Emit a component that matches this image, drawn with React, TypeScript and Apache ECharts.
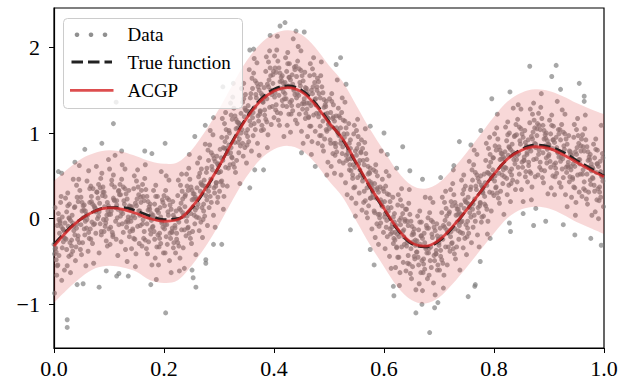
import React, { useEffect, useRef } from "react";
import * as echarts from "echarts";

// ---------- data ----------
const CURVE_X = [
  0, 0.025, 0.05, 0.075, 0.1, 0.125, 0.15, 0.175, 0.2, 0.225, 0.25, 0.275, 0.3, 0.325, 0.35, 0.375, 0.4,
  0.425, 0.45, 0.475, 0.5, 0.525, 0.55, 0.575, 0.6, 0.625, 0.65, 0.675, 0.7, 0.725, 0.75, 0.775, 0.8,
  0.825, 0.85, 0.875, 0.9, 0.925, 0.95, 0.975, 1.0,
];
const ACGP_MEAN = [
  -0.32, -0.14, 0.0, 0.09, 0.125, 0.11, 0.06, 0.0, -0.03, -0.01, 0.13, 0.35, 0.61, 0.9, 1.17, 1.37, 1.49,
  1.53, 1.48, 1.33, 1.12, 0.93, 0.65, 0.37, 0.12, -0.12, -0.28, -0.32, -0.25, -0.09, 0.1, 0.31, 0.52,
  0.7, 0.8, 0.84, 0.82, 0.75, 0.66, 0.57, 0.49,
];
const TRUE_FUNCTION = [
  -0.3, -0.13, 0.0, 0.09, 0.13, 0.13, 0.09, 0.03, -0.01, 0.0, 0.12, 0.34, 0.61, 0.91, 1.18, 1.39, 1.51,
  1.55, 1.5, 1.35, 1.13, 0.92, 0.64, 0.36, 0.11, -0.13, -0.29, -0.33, -0.26, -0.1, 0.1, 0.31, 0.52,
  0.7, 0.81, 0.86, 0.84, 0.78, 0.68, 0.59, 0.5,
];
const BAND_UPPER = [
  0.44, 0.58, 0.7, 0.77, 0.8, 0.78, 0.73, 0.67, 0.64, 0.66, 0.8, 1.02, 1.28, 1.57, 1.84, 2.04, 2.16,
  2.2, 2.15, 2.0, 1.79, 1.6, 1.32, 1.04, 0.79, 0.55, 0.39, 0.35, 0.42, 0.58, 0.77, 0.98, 1.19,
  1.37, 1.47, 1.51, 1.49, 1.43, 1.35, 1.28, 1.22,
];
const BAND_LOWER = [
  -0.98, -0.82, -0.68, -0.58, -0.55, -0.57, -0.62, -0.72, -0.75, -0.72, -0.55, -0.33, -0.07, 0.22, 0.49,
  0.69, 0.81, 0.85, 0.8, 0.65, 0.44, 0.25, -0.03, -0.31, -0.56, -0.8, -0.95, -0.99, -0.92, -0.76, -0.57,
  -0.37, -0.17, 0.01, 0.11, 0.14, 0.12, 0.05, -0.04, -0.11, -0.18,
];
const X_TICKS = [0, 0.2, 0.4, 0.6, 0.8, 1.0];
const Y_TICKS = [-1, 0, 1, 2];
const LEGEND_LABELS = ["Data", "True function", "ACGP"];

// observed points: "x,y" with x in thousandths and y in hundredths
const DATA_POINTS = `
0,-30 11,-3 5,-66 16,-12 2,13 9,-43 18,-22 7,-54 13,26 3,-34 15,2 1,-87 10,-17 19,-60 6,-8 12,19 4,-39 17,-27 8,6 14,-72
27,1 34,-38 21,24 38,-19 30,-63 23,8 36,-14 25,30 32,-32 20,-5 39,-49 28,17 22,-24 35,46 31,-42 26,-9 37,13 24,-55 33,4 29,-28
40,-33 51,9 45,46 56,-19 42,25 49,-7 58,-55 47,33 53,1 43,-24 55,16 41,39 50,-42 59,-11 46,62 52,-28 44,20 57,-3 48,-36 54,10
67,38 74,-6 61,4 78,31 70,-29 63,56 76,-17 65,19 72,-52 60,44 79,0 68,26 62,-38 75,12 71,35 66,-12 77,61 64,-23 73,15 69,-4
80,24 91,-15 85,47 96,4 82,-40 89,31 98,9 87,53 93,-9 83,18 95,-26 81,40 90,-1 99,69 86,-19 92,14 84,36 97,-32 88,27 94,-5
107,-21 114,21 101,58 118,-7 110,37 103,5 116,-43 105,45 112,13 100,-12 119,28 108,51 102,-30 115,1 111,74 106,-16 117,32 104,9 113,-24 109,22
120,40 131,-4 125,6 136,33 122,-27 129,58 138,-15 127,21 133,-50 123,46 135,2 121,28 130,-36 139,14 126,37 132,-10 124,63 137,-21 128,17 134,-2
147,1 154,28 141,-35 158,19 150,44 143,-12 156,9 145,-23 152,57 140,-3 159,33 148,-56 142,14 155,-29 151,23 146,50 157,-8 144,4 153,37 149,-41
160,-32 171,10 165,47 176,-18 162,26 169,-6 178,-54 167,34 173,2 163,-23 175,17 161,40 170,-41 179,-10 166,63 172,-27 164,21 177,-2 168,-35 174,11
187,10 194,-29 181,33 198,-10 190,-54 183,17 196,-5 185,39 192,-23 180,4 199,-40 188,26 182,-15 195,55 191,-33 186,0 197,22 184,-46 193,13 189,-19
200,27 211,-17 205,-7 216,20 202,-40 209,45 218,-28 207,8 213,-63 203,33 215,-11 201,15 210,-49 219,1 206,24 212,-23 204,50 217,-34 208,4 214,-15
227,-4 234,23 221,-40 238,14 230,39 223,-17 236,4 225,-28 232,52 220,-8 239,28 228,-61 222,9 235,-34 231,18 226,45 237,-13 224,-1 233,32 229,-46
240,-20 251,22 245,59 256,-6 242,38 249,6 258,-42 247,46 253,14 243,-11 255,29 241,52 250,-29 259,2 246,75 252,-15 244,33 257,10 248,-23 254,23
267,42 274,3 261,65 278,22 270,-22 263,49 276,27 265,71 272,9 260,36 279,-8 268,58 262,17 275,87 271,-1 266,32 277,54 264,-14 273,45 269,13
280,80 291,36 285,46 296,73 282,13 289,98 298,25 287,61 293,-10 283,86 295,42 281,68 290,4 299,54 286,77 292,30 284,103 297,19 288,57 294,38
307,68 314,95 301,32 318,86 310,111 303,55 316,76 305,44 312,124 300,64 319,100 308,11 302,81 315,38 311,90 306,117 317,59 304,71 313,104 309,26
320,63 331,105 325,142 336,77 322,121 329,89 338,41 327,129 333,97 323,72 335,112 321,135 330,54 339,85 326,158 332,68 324,116 337,93 328,60 334,106
347,129 354,90 341,152 358,109 350,65 343,136 356,114 345,158 352,96 340,123 359,79 348,145 342,104 355,174 351,86 346,119 357,141 344,73 353,132 349,100
360,164 371,120 365,130 376,157 362,97 369,182 378,109 367,145 373,74 363,170 375,126 361,152 370,88 379,138 366,161 372,114 364,187 377,103 368,141 374,122
387,140 394,167 381,104 398,158 390,183 383,127 396,148 385,116 392,196 380,136 399,172 388,83 382,153 395,110 391,162 386,189 397,131 384,143 393,176 389,98
400,118 411,160 405,197 416,132 402,176 409,144 418,96 407,184 413,152 403,127 415,167 401,190 410,109 419,140 406,213 412,123 404,171 417,148 408,115 414,161
427,165 434,126 421,188 438,145 430,101 423,172 436,150 425,194 432,132 420,159 439,115 428,181 422,140 435,210 431,122 426,155 437,177 424,109 433,168 429,136
440,178 451,134 445,144 456,171 442,111 449,196 458,123 447,159 453,88 443,184 455,140 441,166 450,102 459,152 446,175 452,128 444,201 457,117 448,155 454,136
467,132 474,159 461,96 478,150 470,175 463,119 476,140 465,108 472,188 460,128 479,164 468,75 462,145 475,102 471,154 466,181 477,123 464,135 473,168 469,90
480,88 491,130 485,167 496,102 482,146 489,114 498,66 487,154 493,122 483,97 495,137 481,160 490,79 499,110 486,183 492,93 484,141 497,118 488,85 494,131
507,117 514,78 501,140 518,97 510,53 503,124 516,102 505,146 512,84 500,111 519,67 508,133 502,92 515,162 511,74 506,107 517,129 504,61 513,120 509,88
520,118 531,74 525,84 536,111 522,51 529,136 538,63 527,99 533,28 523,124 535,80 521,106 530,42 539,92 526,115 532,68 524,141 537,57 528,95 534,76
547,60 554,87 541,24 558,78 550,103 543,47 556,68 545,36 552,116 540,56 559,92 548,3 542,73 555,30 551,82 546,109 557,51 544,63 553,96 549,18
560,10 571,52 565,89 576,24 562,68 569,36 578,-12 567,76 573,44 563,19 575,59 561,82 570,1 579,32 566,105 572,15 564,63 577,40 568,7 574,53
587,34 594,-5 581,57 598,14 590,-30 583,41 596,19 585,63 592,1 580,28 599,-16 588,50 582,9 595,79 591,-9 586,24 597,46 584,-22 593,37 589,5
600,32 611,-12 605,-2 616,25 602,-35 609,50 618,-23 607,13 613,-58 603,38 615,-6 601,20 610,-44 619,6 606,29 612,-18 604,55 617,-29 608,9 614,-10
627,-21 634,6 621,-57 638,-3 630,22 623,-34 636,-13 625,-45 632,35 620,-25 639,11 628,-78 622,-8 635,-51 631,1 626,28 637,-30 624,-18 633,15 629,-63
640,-61 651,-19 645,18 656,-47 642,-3 649,-35 658,-83 647,5 653,-27 643,-52 655,-12 641,11 650,-70 659,-39 646,34 652,-56 644,-8 657,-31 648,-64 654,-18
667,-20 674,-59 661,3 678,-40 670,-84 663,-13 676,-35 665,9 672,-53 660,-26 679,-70 668,-4 662,-45 675,25 671,-63 666,-30 677,-8 664,-76 673,-17 669,-49
680,1 691,-43 685,-33 696,-6 682,-66 689,19 698,-54 687,-18 693,-89 683,7 695,-37 681,-11 690,-75 699,-25 686,-2 692,-49 684,24 697,-60 688,-22 694,-41
707,-24 714,3 701,-60 718,-6 710,19 703,-37 716,-16 705,-48 712,32 700,-28 719,8 708,-81 702,-11 715,-54 711,-2 706,25 717,-33 704,-21 713,12 709,-66
720,-38 731,4 725,41 736,-24 722,20 729,-12 738,-60 727,28 733,-4 723,-29 735,11 721,34 730,-47 739,-16 726,57 732,-33 724,15 737,-8 728,-41 734,5
747,22 754,-17 741,45 758,2 750,-42 743,29 756,7 745,51 752,-11 740,16 759,-28 748,38 742,-3 755,67 751,-21 746,12 757,34 744,-34 753,25 749,-7
760,57 771,13 765,23 776,50 762,-10 769,75 778,2 767,38 773,-33 763,63 775,19 761,45 770,-19 779,31 766,54 772,7 764,80 777,-4 768,34 774,15
787,39 794,66 781,3 798,57 790,82 783,26 796,47 785,15 792,95 780,35 799,71 788,-18 782,52 795,9 791,61 786,88 797,30 784,42 793,75 789,-3
800,27 811,69 805,106 816,41 802,85 809,53 818,5 807,93 813,61 803,36 815,76 801,99 810,18 819,49 806,122 812,32 804,80 817,57 808,24 814,70
827,84 834,45 821,107 838,64 830,20 823,91 836,69 825,113 832,51 820,78 839,34 828,100 822,59 835,129 831,41 826,74 837,96 824,28 833,87 829,55
840,110 851,66 845,76 856,103 842,43 849,128 858,55 847,91 853,20 843,116 855,72 841,98 850,34 859,84 846,107 852,60 844,133 857,49 848,87 854,68
867,79 874,106 861,43 878,97 870,122 863,66 876,87 865,55 872,135 860,75 879,111 868,22 862,92 875,49 871,101 866,128 877,70 864,82 873,115 869,37
880,51 891,93 885,130 896,65 882,109 889,77 898,29 887,117 893,85 883,60 895,100 881,123 890,42 899,73 886,146 892,56 884,104 897,81 888,48 894,94
907,92 914,53 901,115 918,72 910,28 903,99 916,77 905,121 912,59 900,86 919,42 908,108 902,67 915,137 911,49 906,82 917,104 904,36 913,95 909,63
920,104 931,60 925,70 936,97 922,37 929,122 938,49 927,85 933,14 923,110 935,66 921,92 930,28 939,78 926,101 932,54 924,127 937,43 928,81 934,62
947,61 954,88 941,25 958,79 950,104 943,48 956,69 945,37 952,117 940,57 959,93 948,4 942,74 955,31 951,83 946,110 957,52 944,64 953,97 949,19
960,26 971,68 965,105 976,40 962,84 969,52 978,4 967,92 973,60 963,35 975,75 961,98 970,17 979,48 966,121 972,31 964,79 977,56 968,23 974,69
987,64 994,25 981,87 998,44 990,0 983,71 996,49 985,93 992,31 980,58 999,14 988,80 982,39 995,109 991,21 986,54 997,76 984,8 993,67 989,35
`;
const CORE_POINTS = `
4,-48 17,-13 9,-1 1,-41 13,-9 6,-55 19,-15 11,-5 2,-35 15,-34
28,0 23,-36 34,-5 38,14 20,-23 32,-25 25,15 36,-9 30,-2 27,-44
44,-20 57,9 49,25 41,-11 53,15 46,-28 59,5 51,19 42,-6 55,-12
68,20 63,-16 74,13 78,31 60,-1 72,-7 65,35 76,8 70,17 67,-24
84,-6 97,19 89,37 81,3 93,26 86,-15 99,15 91,31 82,8 95,-1
108,24 103,-10 114,16 118,33 100,5 112,-3 105,40 116,11 110,21 107,-19
124,-6 137,15 129,35 121,3 133,23 126,-16 139,11 131,29 122,8 135,-4
148,18 143,-14 154,9 158,25 140,1 152,-9 145,35 156,4 150,15 147,-24
164,-15 177,6 169,26 161,-6 173,14 166,-25 179,2 171,20 162,-1 175,-13
188,10 183,-24 194,2 198,19 180,-9 192,-17 185,26 196,-3 190,7 187,-33
204,-21 217,4 209,22 201,-12 213,11 206,-30 219,0 211,16 202,-7 215,-16
228,12 223,-24 234,7 238,26 220,-11 232,-13 225,27 236,3 230,10 227,-32
244,-10 257,25 249,37 241,-3 253,29 246,-17 259,23 251,33 242,3 255,4
268,40 263,1 274,38 278,59 260,13 272,17 265,53 276,35 270,39 267,-4
284,26 297,64 289,74 281,32 293,67 286,19 299,62 291,70 282,38 295,42
308,83 303,43 314,82 318,103 300,54 312,60 305,95 316,79 310,82 307,39
324,71 337,111 329,120 321,77 333,113 326,64 339,109 331,116 322,83 335,89
348,127 343,88 354,125 358,146 340,100 352,104 345,140 356,122 350,126 347,83
364,111 377,146 369,158 361,118 373,150 366,104 379,144 371,154 362,124 375,125
388,157 383,121 394,150 398,168 380,136 392,130 385,172 396,145 390,154 387,113
404,133 417,158 409,176 401,142 413,165 406,124 419,154 411,170 402,147 415,138
428,165 423,131 434,157 438,174 420,146 432,138 425,181 436,152 430,162 427,122
444,132 457,153 449,173 441,141 453,161 446,122 459,149 451,167 442,146 455,134
468,150 463,118 474,139 478,154 460,135 472,121 465,167 476,133 470,146 467,108
484,108 497,123 489,147 481,119 493,133 486,97 499,117 491,139 482,123 495,104
508,119 503,88 514,106 518,120 500,105 512,88 505,137 516,100 510,114 507,76
524,76 537,88 529,114 521,88 533,99 526,65 539,82 531,106 522,92 535,70
548,79 543,51 554,64 558,77 540,70 552,48 545,99 556,57 550,74 547,37
564,32 577,42 569,69 561,44 573,54 566,21 579,36 571,61 562,48 575,24
588,36 583,7 594,22 598,35 580,25 592,5 585,55 596,15 590,31 587,-6
604,-10 617,2 609,28 601,2 613,13 606,-21 619,-4 611,20 602,6 615,-16
628,-2 623,-33 634,-15 638,-1 620,-16 632,-33 625,16 636,-21 630,-7 627,-45
644,-43 657,-25 649,-3 641,-32 653,-16 646,-53 659,-30 651,-9 642,-28 655,-44
668,-20 663,-54 674,-28 678,-11 660,-39 672,-47 665,-4 676,-33 670,-23 667,-63
684,-49 697,-20 689,-4 681,-40 693,-14 686,-57 699,-24 691,-10 682,-35 695,-41
708,-8 703,-44 714,-13 718,6 700,-31 712,-33 705,7 716,-17 710,-10 707,-52
724,-28 737,7 729,19 721,-21 733,11 726,-35 739,5 731,15 722,-15 735,-14
748,20 743,-17 754,17 758,37 740,-4 752,-3 745,34 756,13 750,19 747,-23
764,4 777,39 769,51 761,11 773,43 766,-3 779,37 771,47 762,17 775,18
788,54 783,17 794,51 798,71 780,30 792,31 785,68 796,47 790,53 787,11
804,37 817,72 809,84 801,44 813,76 806,30 819,70 811,80 802,50 815,51
828,83 823,47 834,78 838,97 820,60 832,58 825,98 836,74 830,81 827,39
844,60 857,89 849,105 841,69 853,95 846,52 859,85 851,99 842,74 855,68
868,96 863,62 874,88 878,105 860,77 872,69 865,112 876,83 870,93 867,53
884,66 897,91 889,109 881,75 893,98 886,57 899,87 891,103 882,80 895,71
908,92 903,60 914,83 918,99 900,75 912,65 905,109 916,78 910,89 907,50
924,58 937,79 929,99 921,67 933,87 926,48 939,75 931,93 922,72 935,60
948,78 943,46 954,69 958,85 940,61 952,51 945,95 956,64 950,75 947,36
964,43 977,64 969,84 961,52 973,72 966,33 979,60 971,78 962,57 975,45
988,64 983,32 994,55 998,71 980,47 992,37 985,81 996,50 990,61 987,22
`;
const OUTLIER_POINTS = `
24,-118 24,-127 203,-110 683,-133 658,-110 669,-100 692,-104 698,-98 618,-90 753,-91 766,-77 82,-80 42,-77 53,-76 95,-61 118,-64
176,-77 186,-71 253,-69 258,-80 276,-52 276,-48 251,-60 237,-58 865,178 913,179 905,166 955,158 964,143 964,137 921,151 796,140
829,148 737,90 758,86 776,103 727,62 634,84 600,100 606,75 623,59 647,56 670,46 703,48 521,188 513,180 531,157 575,108 539,-13
575,-36 582,-54 617,-79 420,229 411,225 440,219 455,218 393,214 363,198 356,197 307,154 275,109 290,118 256,96 290,-30 305,-30
365,57 381,57 356,36 450,77 475,61 496,51 113,136 108,111 87,88 56,81 38,66 8,55 14,53 165,79 178,76 202,88 123,79 114,-67 135,-67
765,-79 775,-50 793,-23 830,-15 828,-5 872,-8 894,-3 876,12 926,-7 947,-19 976,-23 995,-31 853,6
`;

function parsePoints(s: string): number[][] {
  return s
    .trim()
    .split(/\s+/)
    .map((t) => {
      const [a, b] = t.split(",").map(Number);
      return [a / 1000, b / 100];
    });
}

// Catmull-Rom spline through pixel points -> SVG path commands (no leading M)
function splineSegments(pts: number[][]): string {
  let d = "";
  const n = pts.length;
  for (let i = 0; i < n - 1; i++) {
    const p0 = pts[Math.max(i - 1, 0)];
    const p1 = pts[i];
    const p2 = pts[i + 1];
    const p3 = pts[Math.min(i + 2, n - 1)];
    const c1x = p1[0] + (p2[0] - p0[0]) / 6;
    const c1y = p1[1] + (p2[1] - p0[1]) / 6;
    const c2x = p2[0] - (p3[0] - p1[0]) / 6;
    const c2y = p2[1] - (p3[1] - p1[1]) / 6;
    d += ` C${c1x},${c1y} ${c2x},${c2y} ${p2[0]},${p2[1]}`;
  }
  return d;
}

const FONT = "Liberation Serif";
const POINT_COLOR = "rgba(125,125,125,0.85)";
const BAND_COLOR = "rgba(214,39,40,0.18)";
const RED = "rgba(214,39,40,0.82)";
const DARK = "#222222";

export default function App() {
  const ref = useRef<HTMLDivElement>(null);
  useEffect(() => {
    const chart = echarts.init(ref.current!, null, { renderer: "svg" });
    const points = parsePoints(DATA_POINTS)
      .concat(parsePoints(CORE_POINTS))
      .concat(parsePoints(OUTLIER_POINTS));
    const bandData = CURVE_X.map((x, i) => [x, BAND_LOWER[i], BAND_UPPER[i]]);
    const mean = CURVE_X.map((x, i) => [x, ACGP_MEAN[i]]);
    const truth = CURVE_X.map((x, i) => [x, TRUE_FUNCTION[i]]);

    const legendY = [34.7, 62, 90.3];
    const option: any = {
      animation: false,
      grid: {
        left: 54,
        right: 17,
        top: 8,
        bottom: 35,
        show: true,
        borderColor: "#000",
        borderWidth: 1.2,
        backgroundColor: "transparent",
      },
      xAxis: {
        type: "value",
        min: 0,
        max: 1,
        interval: 0.2,
        splitLine: { show: false },
        axisLine: { show: true, onZero: false, lineStyle: { color: "#000", width: 1.2 } },
        axisTick: { show: true, length: 5, lineStyle: { color: "#000", width: 1 }, customValues: X_TICKS },
        axisLabel: {
          color: "#000",
          fontFamily: FONT,
          fontSize: 22,
          margin: 9,
          customValues: X_TICKS,
          formatter: (v: number) => v.toFixed(1),
        },
      },
      yAxis: {
        type: "value",
        min: -1.51,
        max: 2.46,
        splitLine: { show: false },
        axisLine: { show: true, onZero: false, lineStyle: { color: "#000", width: 1.2 } },
        axisTick: { show: true, length: 5, lineStyle: { color: "#000", width: 1 }, customValues: Y_TICKS },
        axisLabel: {
          color: "#000",
          fontFamily: FONT,
          fontSize: 22,
          margin: 14,
          customValues: Y_TICKS,
          formatter: (v: number) => (v < 0 ? "\u2212" + Math.abs(v) : String(v)),
        },
      },
      series: [
        {
          name: LEGEND_LABELS[0],
          type: "scatter",
          data: points,
          symbolSize: 5,
          itemStyle: { color: POINT_COLOR },
          z: 1,
          silent: true,
        },
        {
          name: "band",
          type: "custom",
          data: bandData,
          z: 2,
          silent: true,
          clip: true,
          encode: { x: 0, y: [1, 2] },
          renderItem: (params: any, api: any) => {
            if (params.dataIndex !== 0) return null;
            const top = bandData.map((d) => api.coord([d[0], d[2]]));
            const bottom = bandData.map((d) => api.coord([d[0], d[1]])).reverse();
            const pathData =
              `M${top[0][0]},${top[0][1]}` +
              splineSegments(top) +
              ` L${bottom[0][0]},${bottom[0][1]}` +
              splineSegments(bottom) +
              " Z";
            return {
              type: "path",
              shape: { pathData },
              style: { fill: BAND_COLOR, stroke: "none" },
            };
          },
        },
        {
          name: LEGEND_LABELS[1],
          type: "line",
          data: truth,
          smooth: 0.4,
          symbol: "none",
          lineStyle: { color: DARK, width: 2.8, type: [11.5, 5] },
          z: 3,
          silent: true,
        },
        {
          name: LEGEND_LABELS[2],
          type: "line",
          data: mean,
          smooth: 0.4,
          symbol: "none",
          lineStyle: { color: RED, width: 2.8 },
          z: 4,
          silent: true,
        },
      ],
      graphic: [
        {
          type: "rect",
          z: 100,
          shape: { x: 63.5, y: 18.5, width: 179, height: 90, r: 4 },
          style: { fill: "rgba(255,255,255,0.8)", stroke: "#cccccc", lineWidth: 1 },
        },
        { type: "circle", z: 101, shape: { cx: 77, cy: legendY[0], r: 2.3 }, style: { fill: POINT_COLOR } },
        { type: "circle", z: 101, shape: { cx: 91, cy: legendY[0], r: 2.3 }, style: { fill: POINT_COLOR } },
        { type: "circle", z: 101, shape: { cx: 105, cy: legendY[0], r: 2.3 }, style: { fill: POINT_COLOR } },
        {
          type: "line",
          z: 101,
          shape: { x1: 71.5, y1: legendY[1], x2: 112, y2: legendY[1] },
          style: { stroke: DARK, lineWidth: 2.8, lineDash: [11.5, 5] },
        },
        {
          type: "line",
          z: 101,
          shape: { x1: 70, y1: legendY[2], x2: 113.5, y2: legendY[2] },
          style: { stroke: RED, lineWidth: 2.8 },
        },
        ...LEGEND_LABELS.map((t, i) => ({
          type: "text",
          z: 101,
          x: 127.5,
          y: legendY[i],
          style: {
            text: t,
            fill: "#000",
            fontFamily: FONT,
            fontSize: 19,
            verticalAlign: "middle",
            align: "left",
          },
        })),
      ],
    };
    chart.setOption(option);
    return () => chart.dispose();
  }, []);
  return (
    <div
      ref={ref}
      style={{ position: "fixed", left: 0, top: 0, width: 621, height: 383, background: "#fff" }}
    />
  );
}
